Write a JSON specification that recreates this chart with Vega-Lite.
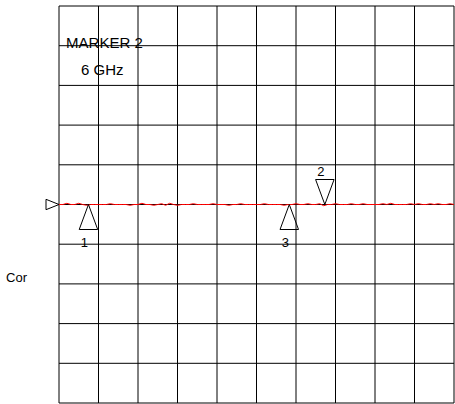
{
  "$schema": "https://vega.github.io/schema/vega-lite/v6.json",
  "width": 395,
  "height": 397,
  "autosize": {"type": "none"},
  "padding": {"left": 59, "top": 6, "right": 1, "bottom": 1},
  "background": "white",
  "config": {
    "view": {"stroke": null},
    "text": {"font": "Liberation Sans", "color": "#000"},
    "axis": {"disable": true}
  },
  "datasets": {
    "grid": [
      {"gx": 0, "gy": -5}, {"gx": 1, "gy": -4}, {"gx": 2, "gy": -3}, {"gx": 3, "gy": -2},
      {"gx": 4, "gy": -1}, {"gx": 5, "gy": 0}, {"gx": 6, "gy": 1}, {"gx": 7, "gy": 2},
      {"gx": 8, "gy": 3}, {"gx": 9, "gy": 4}, {"gx": 10, "gy": 5}
    ],
    "trace": [
      {"x": 0.0, "y": 0}, {"x": 0.1, "y": 0}, {"x": 0.2, "y": 0.03}, {"x": 0.3, "y": 0}, {"x": 0.4, "y": 0},
      {"x": 0.5, "y": 0.03}, {"x": 0.6, "y": 0}, {"x": 0.7, "y": -0.02}, {"x": 0.8, "y": 0}, {"x": 0.9, "y": 0},
      {"x": 1.0, "y": 0}, {"x": 1.1, "y": 0}, {"x": 1.2, "y": 0}, {"x": 1.3, "y": 0.02}, {"x": 1.4, "y": 0},
      {"x": 1.5, "y": 0}, {"x": 1.6, "y": 0}, {"x": 1.7, "y": 0}, {"x": 1.8, "y": -0.02}, {"x": 1.9, "y": 0},
      {"x": 2.0, "y": 0}, {"x": 2.1, "y": 0.03}, {"x": 2.2, "y": 0}, {"x": 2.3, "y": 0}, {"x": 2.4, "y": -0.02},
      {"x": 2.5, "y": 0}, {"x": 2.6, "y": 0.02}, {"x": 2.7, "y": -0.02}, {"x": 2.8, "y": 0.03}, {"x": 2.9, "y": 0},
      {"x": 3.0, "y": -0.02}, {"x": 3.1, "y": 0}, {"x": 3.2, "y": 0}, {"x": 3.3, "y": 0}, {"x": 3.4, "y": 0.02},
      {"x": 3.5, "y": 0}, {"x": 3.6, "y": 0}, {"x": 3.7, "y": 0}, {"x": 3.8, "y": 0}, {"x": 3.9, "y": 0.02},
      {"x": 4.0, "y": 0}, {"x": 4.1, "y": 0}, {"x": 4.2, "y": 0}, {"x": 4.3, "y": -0.02}, {"x": 4.4, "y": 0},
      {"x": 4.5, "y": 0}, {"x": 4.6, "y": 0.02}, {"x": 4.7, "y": 0}, {"x": 4.8, "y": 0}, {"x": 4.9, "y": 0},
      {"x": 5.0, "y": 0}, {"x": 5.1, "y": 0}, {"x": 5.2, "y": 0.02}, {"x": 5.3, "y": 0}, {"x": 5.4, "y": 0},
      {"x": 5.5, "y": 0}, {"x": 5.6, "y": 0}, {"x": 5.7, "y": -0.02}, {"x": 5.8, "y": 0}, {"x": 5.9, "y": 0},
      {"x": 6.0, "y": 0.02}, {"x": 6.1, "y": 0}, {"x": 6.2, "y": 0}, {"x": 6.3, "y": 0.02}, {"x": 6.4, "y": 0},
      {"x": 6.5, "y": 0}, {"x": 6.6, "y": 0.02}, {"x": 6.7, "y": -0.03}, {"x": 6.8, "y": 0}, {"x": 6.9, "y": 0},
      {"x": 7.0, "y": 0.02}, {"x": 7.1, "y": 0}, {"x": 7.2, "y": 0}, {"x": 7.3, "y": 0}, {"x": 7.4, "y": 0.02},
      {"x": 7.5, "y": 0}, {"x": 7.6, "y": 0}, {"x": 7.7, "y": 0.02}, {"x": 7.8, "y": 0}, {"x": 7.9, "y": 0},
      {"x": 8.0, "y": 0}, {"x": 8.1, "y": 0}, {"x": 8.2, "y": 0.02}, {"x": 8.3, "y": 0}, {"x": 8.4, "y": 0.03},
      {"x": 8.5, "y": 0}, {"x": 8.6, "y": 0}, {"x": 8.7, "y": 0}, {"x": 8.8, "y": 0}, {"x": 8.9, "y": 0.02},
      {"x": 9.0, "y": 0}, {"x": 9.1, "y": 0.02}, {"x": 9.2, "y": 0}, {"x": 9.3, "y": 0}, {"x": 9.4, "y": 0.02},
      {"x": 9.5, "y": 0}, {"x": 9.6, "y": 0.02}, {"x": 9.7, "y": 0}, {"x": 9.8, "y": 0}, {"x": 9.9, "y": 0.02},
      {"x": 10.0, "y": 0}
    ],
    "markers": [
      {"id": "1", "x": 0.746, "y": 0, "dir": "up"},
      {"id": "2", "x": 6.73, "y": 0, "dir": "down"},
      {"id": "3", "x": 5.83, "y": 0, "dir": "up"}
    ],
    "ref": [{"x": 0, "y": 0}],
    "notes": [
      {"t": "MARKER 2", "x": 0.18, "y": 3.94},
      {"t": "6 GHz", "x": 0.556, "y": 3.26}
    ],
    "side": [{"t": "Cor", "x": -1.34, "y": -1.945}]
  },
  "layer": [
    {
      "data": {"name": "grid"},
      "mark": {"type": "rule", "color": "#000", "strokeWidth": 1},
      "encoding": {
        "x": {"field": "gx", "type": "quantitative", "scale": {"domain": [0, 10], "nice": false, "zero": false}}
      }
    },
    {
      "data": {"name": "grid"},
      "mark": {"type": "rule", "color": "#000", "strokeWidth": 1},
      "encoding": {
        "y": {"field": "gy", "type": "quantitative", "scale": {"domain": [-5, 5], "nice": false, "zero": false}}
      }
    },
    {
      "data": {"name": "trace"},
      "mark": {"type": "line", "color": "#ff0000", "strokeWidth": 1, "interpolate": "linear"},
      "encoding": {
        "x": {"field": "x", "type": "quantitative", "scale": {"domain": [0, 10], "nice": false, "zero": false}},
        "y": {"field": "y", "type": "quantitative", "scale": {"domain": [-5, 5], "nice": false, "zero": false}}
      }
    },
    {
      "data": {"name": "markers"},
      "mark": {"type": "point", "filled": false, "color": "#000", "strokeWidth": 1, "opacity": 1, "size": 625},
      "encoding": {
        "x": {"field": "x", "type": "quantitative", "scale": {"domain": [0, 10], "nice": false, "zero": false}},
        "y": {"field": "y", "type": "quantitative", "scale": {"domain": [-5, 5], "nice": false, "zero": false}},
        "shape": {
          "field": "dir", "type": "nominal",
          "scale": {"domain": ["up", "down"], "range": ["M0,0L0.74,2L-0.74,2Z", "M0,0L0.74,-2L-0.74,-2Z"]},
          "legend": null
        }
      }
    },
    {
      "data": {"name": "markers"},
      "transform": [{"filter": "datum.dir === 'up'"}],
      "mark": {"type": "text", "fontSize": 13, "baseline": "middle", "align": "center", "dx": -4, "dy": 38},
      "encoding": {
        "x": {"field": "x", "type": "quantitative", "scale": {"domain": [0, 10], "nice": false, "zero": false}},
        "y": {"field": "y", "type": "quantitative", "scale": {"domain": [-5, 5], "nice": false, "zero": false}},
        "text": {"field": "id"}
      }
    },
    {
      "data": {"name": "markers"},
      "transform": [{"filter": "datum.dir === 'down'"}],
      "mark": {"type": "text", "fontSize": 13, "baseline": "middle", "align": "center", "dx": -4, "dy": -33},
      "encoding": {
        "x": {"field": "x", "type": "quantitative", "scale": {"domain": [0, 10], "nice": false, "zero": false}},
        "y": {"field": "y", "type": "quantitative", "scale": {"domain": [-5, 5], "nice": false, "zero": false}},
        "text": {"field": "id"}
      }
    },
    {
      "data": {"name": "ref"},
      "mark": {"type": "point", "filled": false, "color": "#000", "strokeWidth": 1, "opacity": 1, "size": 676, "shape": "M0,0L-1,-0.4L-1,0.4Z"},
      "encoding": {
        "x": {"field": "x", "type": "quantitative", "scale": {"domain": [0, 10], "nice": false, "zero": false}},
        "y": {"field": "y", "type": "quantitative", "scale": {"domain": [-5, 5], "nice": false, "zero": false}}
      }
    },
    {
      "data": {"name": "notes"},
      "mark": {"type": "text", "fontSize": 15, "align": "left", "baseline": "alphabetic"},
      "encoding": {
        "x": {"field": "x", "type": "quantitative", "scale": {"domain": [0, 10], "nice": false, "zero": false}},
        "y": {"field": "y", "type": "quantitative", "scale": {"domain": [-5, 5], "nice": false, "zero": false}},
        "text": {"field": "t"}
      }
    },
    {
      "data": {"name": "side"},
      "mark": {"type": "text", "fontSize": 13, "align": "left", "baseline": "alphabetic"},
      "encoding": {
        "x": {"field": "x", "type": "quantitative", "scale": {"domain": [0, 10], "nice": false, "zero": false}},
        "y": {"field": "y", "type": "quantitative", "scale": {"domain": [-5, 5], "nice": false, "zero": false}},
        "text": {"field": "t"}
      }
    }
  ]
}
